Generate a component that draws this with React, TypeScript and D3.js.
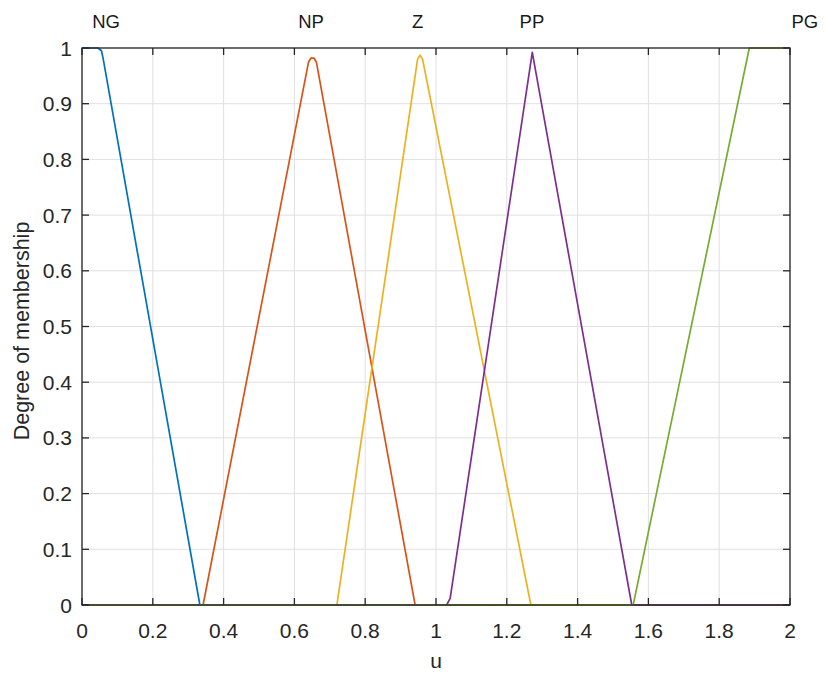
import React from "react";
import * as d3 from "d3";

const xTicks = [0, 0.2, 0.4, 0.6, 0.8, 1, 1.2, 1.4, 1.6, 1.8, 2];
const yTicks = [0, 0.1, 0.2, 0.3, 0.4, 0.5, 0.6, 0.7, 0.8, 0.9, 1];
const xTickLabels = ["0", "0.2", "0.4", "0.6", "0.8", "1", "1.2", "1.4", "1.6", "1.8", "2"];
const yTickLabels = ["0", "0.1", "0.2", "0.3", "0.4", "0.5", "0.6", "0.7", "0.8", "0.9", "1"];

const mfNames = ["NG", "NP", "Z", "PP", "PG"];
const mfLabelX = [0.068, 0.647, 0.948, 1.271, 2.042];
const mfColors = ["#0072BD", "#D95319", "#EDB120", "#7E2F8E", "#77AC30"];

const ngX = [0, 0.045, 0.055, 0.06, 0.333, 2];
const ngY = [1, 1, 0.995, 0.98, 0, 0];
const npX = [0, 0.342, 0.64, 0.647, 0.655, 0.662, 0.941, 2];
const npY = [0, 0, 0.975, 0.982, 0.982, 0.975, 0, 0];
const zX = [0, 0.72, 0.948, 0.955, 0.962, 1.268, 2];
const zY = [0, 0, 0.98, 0.987, 0.98, 0, 0];
const ppX = [0, 1.03, 1.04, 1.272, 1.553, 2];
const ppY = [0, 0, 0.012, 0.992, 0, 0];
const pgX = [0, 1.557, 1.885, 2];
const pgY = [0, 0, 1, 1];

const seriesX = [ngX, npX, zX, ppX, pgX];
const seriesY = [ngY, npY, zY, ppY, pgY];

export default function App() {
  const W = 825, H = 673;
  const left = 82, right = 790, top = 48, bottom = 605;
  const x = d3.scaleLinear().domain([0, 2]).range([left, right]);
  const y = d3.scaleLinear().domain([0, 1]).range([bottom, top]);
  const line = d3.line<[number, number]>().x(d => x(d[0])).y(d => y(d[1]));
  const axisColor = "#262626";
  const font = "'Liberation Sans', Arial, Helvetica, sans-serif";
  const tl = 7;
  return (
    <svg width={W} height={H} style={{ position: "absolute", left: 0, top: 0, background: "#fff" }}>
      <rect x={0} y={0} width={W} height={H} fill="#fff" />
      {xTicks.map((t, i) => (
        <line key={"gx" + i} x1={x(t)} x2={x(t)} y1={top} y2={bottom} stroke="#e0e0e0" strokeWidth={1} />
      ))}
      {yTicks.map((t, i) => (
        <line key={"gy" + i} x1={left} x2={right} y1={y(t)} y2={y(t)} stroke="#e0e0e0" strokeWidth={1} />
      ))}
      {seriesX.map((xs, i) => (
        <path key={"s" + i} d={line(xs.map((v, j) => [v, seriesY[i][j]] as [number, number])) || ""}
          fill="none" stroke={mfColors[i]} strokeWidth={1.7} strokeLinejoin="round" />
      ))}
      <rect x={left} y={top} width={right - left} height={bottom - top} fill="none" stroke={axisColor} strokeWidth={1.3} />
      {xTicks.map((t, i) => (
        <g key={"xt" + i}>
          <line x1={x(t)} x2={x(t)} y1={bottom} y2={bottom - tl} stroke={axisColor} strokeWidth={1.3} />
          <line x1={x(t)} x2={x(t)} y1={top} y2={top + tl} stroke={axisColor} strokeWidth={1.3} />
          <text x={x(t)} y={bottom + 33} textAnchor="middle" fontFamily={font} fontSize={21} fill={axisColor}>{xTickLabels[i]}</text>
        </g>
      ))}
      {yTicks.map((t, i) => (
        <g key={"yt" + i}>
          <line x1={left} x2={left + tl} y1={y(t)} y2={y(t)} stroke={axisColor} strokeWidth={1.3} />
          <line x1={right} x2={right - tl} y1={y(t)} y2={y(t)} stroke={axisColor} strokeWidth={1.3} />
          <text x={left - 10} y={y(t) + 7.5} textAnchor="end" fontFamily={font} fontSize={21} fill={axisColor}>{yTickLabels[i]}</text>
        </g>
      ))}
      {mfNames.map((n, i) => (
        <text key={"n" + i} x={x(mfLabelX[i])} y={28} textAnchor="middle" fontFamily={font} fontSize={18.5} fill="#1a1a1a">{n}</text>
      ))}
      <text x={(left + right) / 2} y={668} textAnchor="middle" fontFamily={font} fontSize={21} fill={axisColor}>u</text>
      <text transform={`translate(29,331) rotate(-90)`} textAnchor="middle" fontFamily={font} fontSize={21.5} fill={axisColor}>Degree of membership</text>
    </svg>
  );
}
